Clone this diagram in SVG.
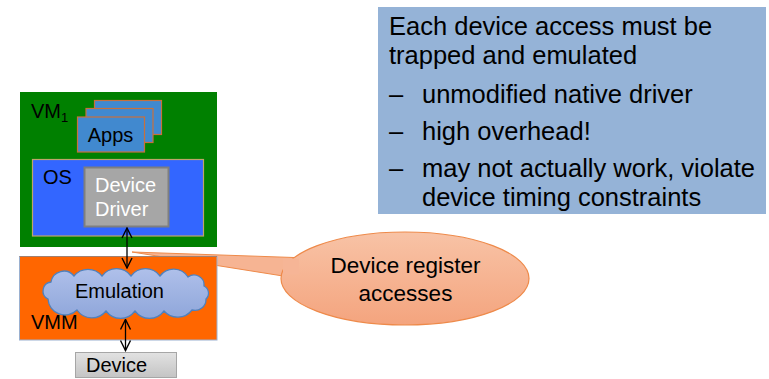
<svg xmlns="http://www.w3.org/2000/svg" width="769" height="379" viewBox="0 0 769 379">
  <defs>
    <linearGradient id="calloutFill" x1="0" y1="0" x2="0" y2="1">
      <stop offset="0" stop-color="#F8C3A6"/>
      <stop offset="1" stop-color="#F4A47E"/>
    </linearGradient>
    <linearGradient id="cloudFill" x1="0" y1="0" x2="0" y2="1">
      <stop offset="0" stop-color="#AFC0EA"/>
      <stop offset="1" stop-color="#8FA6DA"/>
    </linearGradient>
    <linearGradient id="deviceFill" x1="0" y1="0" x2="0" y2="1">
      <stop offset="0" stop-color="#E2E2E2"/>
      <stop offset="1" stop-color="#C4C4C4"/>
    </linearGradient>
    <marker id="head" viewBox="0 0 12 12" refX="11" refY="6" markerWidth="12" markerHeight="12" markerUnits="userSpaceOnUse" orient="auto-start-reverse">
      <path d="M1,1 L11,6 L1,11" fill="none" stroke="#000" stroke-width="1.4"/>
    </marker>
    <style>
      text { font-family: "Liberation Sans", Arial, sans-serif; fill: #000; }
      .lbl { font-size: 20px; }
      .note { font-size: 25.5px; }
      .call { font-size: 22.5px; }
      .app { fill: #4189CF; stroke: #C8703C; stroke-width: 1.2; }
      .link { stroke: #000; stroke-width: 1.3; fill: none; marker-start: url(#head); marker-end: url(#head); }
    </style>
  </defs>

  <!-- explanation panel -->
  <g id="notes">
    <rect x="378" y="7" width="388" height="207" fill="#95B3D7"/>
    <text class="note" x="389" y="34.5">Each device access must be</text>
    <text class="note" x="389" y="64">trapped and emulated</text>
    <text class="note" x="389" y="102.5">–</text>
    <text class="note" x="422" y="102.5">unmodified native driver</text>
    <text class="note" x="389" y="140">–</text>
    <text class="note" x="422" y="140">high overhead!</text>
    <text class="note" x="389" y="177">–</text>
    <text class="note" x="422" y="177">may not actually work, violate</text>
    <text class="note" x="422" y="205.5">device timing constraints</text>
  </g>

  <!-- callout bubble with tail -->
  <g id="callout">
    <polygon points="132,252 294,257.5 283,276" fill="#F6B493" stroke="#EE8A4A" stroke-width="1"/>
    <ellipse cx="405" cy="278.5" rx="124" ry="46.5" fill="url(#calloutFill)" stroke="#EE8A4A" stroke-width="1.2"/>
    <rect x="283" y="258.5" width="16" height="16" fill="#F6B596"/>
    <text class="call" x="405.5" y="273.3" text-anchor="middle">Device register</text>
    <text class="call" x="405.5" y="300.5" text-anchor="middle">accesses</text>
  </g>

  <!-- guest VM -->
  <g id="vm1">
    <rect x="20" y="92" width="197" height="155" fill="#008000"/>
    <text class="lbl" x="31" y="118">VM<tspan font-size="13" dy="4">1</tspan></text>
  </g>

  <g id="apps">
    <rect class="app" x="94.5" y="100.5" width="67" height="34"/>
    <rect class="app" x="86" y="108.5" width="67" height="34"/>
    <rect class="app" x="77.5" y="117" width="67" height="35"/>
    <text class="lbl" x="110.5" y="142" text-anchor="middle">Apps</text>
  </g>

  <g id="os">
    <rect x="32.5" y="159.5" width="171" height="76.5" fill="#3366FF" stroke="#BFA46A" stroke-width="1.2"/>
    <text class="lbl" x="43" y="184">OS</text>
  </g>

  <g id="driver">
    <rect x="84.5" y="167.5" width="84" height="59" fill="#A6A6A6" stroke="#7F7F7F" stroke-width="2"/>
    <text class="lbl" x="95" y="192" style="fill:#FFFFFF">Device</text>
    <text class="lbl" x="95" y="216" style="fill:#FFFFFF">Driver</text>
  </g>

  <!-- hypervisor layer -->
  <g id="vmm">
    <rect x="19.5" y="256.5" width="197.5" height="83.5" fill="#FF6600" stroke="#9AB0D0" stroke-width="1"/>
    <line x1="19.5" y1="256.5" x2="217" y2="256.5" stroke="#A08070" stroke-width="1"/>
    <text class="lbl" x="31" y="329">VMM</text>
  </g>

  <g id="emulation">
    <path d="M48,299 A9,9 0 0 1 51,282 A13,13 0 0 1 74,276 A18,18 0 0 1 102,276 A18,18 0 0 1 131,276 A18,18 0 0 1 160,276 A17,17 0 0 1 188,277 A10,10 0 0 1 204,286 A8,8 0 0 1 206,299 A11,11 0 0 1 192,310 A18,18 0 0 1 164,311 A18,18 0 0 1 135,311 A18,18 0 0 1 106,311 A18,18 0 0 1 77,310 A17,17 0 0 1 48,299 Z" fill="url(#cloudFill)" stroke="#4F81BD" stroke-width="1.3"/>
    <text class="lbl" x="75" y="298">Emulation</text>
  </g>

  <g id="device">
    <rect x="75.5" y="352.5" width="101" height="25" fill="url(#deviceFill)" stroke="#A6A6A6" stroke-width="1"/>
    <text class="lbl" x="86" y="372">Device</text>
  </g>

  <!-- connectors -->
  <g id="connectors">
    <line class="link" x1="127" y1="228" x2="127" y2="268"/>
    <line class="link" x1="125.5" y1="319.5" x2="125.5" y2="350.5"/>
  </g>
</svg>
